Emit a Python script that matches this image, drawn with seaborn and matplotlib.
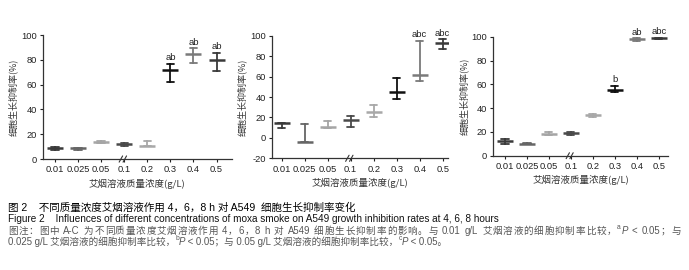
import re
import numpy as np
import pandas as pd
import matplotlib
matplotlib.use('Agg')
import matplotlib.pyplot as plt
import matplotlib.transforms as mtransforms
import seaborn as sns

sns.set_theme(style='white')
plt.rcParams['font.family'] = ['Noto Sans CJK SC', 'DejaVu Sans']
plt.rcParams['axes.unicode_minus'] = False

# 浓度 (g/L)
conc = ['0.01', '0.025', '0.05', '0.1', '0.2', '0.3', '0.4', '0.5']

# 4 h
a_mean = [8.8, 8.7, 14.0, 12.2, 10.8, 71.8, 84.7, 79.9]
a_low = [7.5, 7.0, 13.2, 10.6, 10.2, 61.9, 77.2, 71.3]
a_high = [9.5, 9.3, 14.8, 13.2, 14.3, 76.4, 89.3, 85.7]
a_sig = ['', '', '', '', '', 'ab', 'ab', 'ab']

# 6 h
b_mean = [14.3, -4.0, 11.0, 17.6, 25.7, 44.6, 61.6, 93.2]
b_low = [9.4, -4.5, 9.4, 11.0, 20.8, 38.4, 56.0, 86.6]
b_high = [15.0, 13.7, 16.6, 21.8, 32.2, 59.0, 95.0, 96.7]
b_sig = ['', '', '', '', '', '', 'abc', 'abc']

# 8 h
c_mean = [12.6, 10.1, 18.5, 18.8, 33.9, 55.2, 97.8, 98.6]
c_low = [9.8, 9.5, 17.1, 17.4, 32.8, 53.8, 96.3, 98.0]
c_high = [13.7, 10.6, 19.6, 19.9, 35.0, 58.8, 98.6, 99.2]
c_sig = ['', '', '', '', '', 'b', 'ab', 'abc']

colors = ['#3a3a3a', '#666666', '#a5a5a5', '#4a4a4a', '#a8a8a8', '#111111', '#7a7a7a', '#3a3a3a']
palette = dict(zip(conc, colors))

ylabel = '细胞生长抑制率(%)'
xlabel = '艾烟溶液质量浓度(g/L)'

latin = ['Liberation Sans', 'DejaVu Sans']
mixed = ['Liberation Sans', 'Noto Sans CJK SC', 'DejaVu Sans']

fig = plt.figure(figsize=(6.89, 2.70), dpi=100)

panels = [
    (a_mean, a_low, a_high, a_sig, [0.0624, 0.411, 0.274, 0.459], (-0.52, 7.66), (0, 100), [0, 20, 40, 60, 80, 100]),
    (b_mean, b_low, b_high, b_sig, [0.3948, 0.4137, 0.2554, 0.454], (-0.42, 7.23), (-20, 100), [-20, 0, 20, 40, 60, 80, 100]),
    (c_mean, c_low, c_high, c_sig, [0.716, 0.4233, 0.2535, 0.4407], (-0.53, 7.41), (0, 100), [0, 20, 40, 60, 80, 100]),
]

for mean, low, high, sig, rect, xlim, ylim, yticks in panels:
    ax = fig.add_axes(rect)
    # low/mean/high 三个值，中位数即均值，范围即误差线
    df = pd.DataFrame({
        'conc': conc * 3,
        'value': list(low) + list(mean) + list(high),
    })
    sns.pointplot(data=df, x='conc', y='value', hue='conc', order=conc, hue_order=conc,
                  palette=palette, estimator='median',
                  errorbar=lambda v: (v.min(), v.max()),
                  markers='_', linestyles='none', capsize=0.32,
                  err_kws={'linewidth': 1.3}, markersize=11, markeredgewidth=1.8,
                  legend=False, ax=ax)
    for i, s in enumerate(sig):
        if s:
            ax.text(i, high[i] + 1.5, s, ha='center', va='bottom', fontsize=6.8,
                    color='#222222', family=latin)
    ax.set_xlim(*xlim)
    ax.set_ylim(*ylim)
    ax.set_yticks(yticks)
    ax.set_xlabel(xlabel, fontsize=6.8, color='#333333', labelpad=3)
    ax.set_ylabel(ylabel, fontsize=6.5, color='#333333', labelpad=2)
    ax.tick_params(axis='both', labelsize=6.7, colors='#222222', length=2.5, width=0.8,
                   direction='out', pad=2, left=True, bottom=True)
    for lab in ax.get_xticklabels() + ax.get_yticklabels():
        lab.set_family(latin)
    for sp in ['top', 'right']:
        ax.spines[sp].set_visible(False)
    for sp in ['left', 'bottom']:
        ax.spines[sp].set_color('#333333')
        ax.spines[sp].set_linewidth(0.9)
    # 横轴断点 //
    trans = mtransforms.blended_transform_factory(ax.transData, ax.transAxes)
    for dx in (-0.12, 0.05):
        ax.plot([2.9 + dx, 3.05 + dx], [-0.025, 0.025], color='#333333', lw=0.8,
                transform=trans, clip_on=False)

renderer = fig.canvas.get_renderer()


def put_line(x_px, y_px, pieces, size, color, width=None):
    # 逐段写文字：上标字母、斜体 P；给了 width 就两端对齐
    tokens = []
    for s, kind in pieces:
        if width is not None and kind == '':
            for tok in re.findall(r'[A-Za-z0-9./<\-]+|\s+|.', s):
                tokens.append((tok, kind))
        else:
            tokens.append((s, kind))
    texts = []
    x = x_px
    for s, kind in tokens:
        kw = dict(fontsize=size, color=color, va='center', ha='left', family=mixed)
        y = y_px
        if kind == 'sup':
            kw['fontsize'] = size * 0.7
            y = y_px - 3
        elif kind == 'it':
            kw['style'] = 'italic'
        t = fig.text(x / 689, 1 - y / 270, s, **kw)
        bb = t.get_window_extent(renderer)
        texts.append((t, x, bb.width))
        x = bb.x1
    if width is not None and len(texts) > 1:
        extra = (x_px + width - x) / (len(texts) - 1)
        for k, (t, x0, w) in enumerate(texts):
            t.set_x((x0 + k * extra) / 689)


put_line(8, 207.7, [('图 2    不同质量浓度艾烟溶液作用 4，6，8 h 对 A549  细胞生长抑制率变化', '')], 7.6, '#000000')
put_line(8, 219.3, [('Figure 2    Influences of different concentrations of moxa smoke on A549 growth inhibition rates at 4, 6, 8 hours', '')], 7.2, '#111111')
put_line(8, 230.6, [('图注：图中 A-C 为不同质量浓度艾烟溶液作用 4，6，8 h 对 A549 细胞生长抑制率的影响。与 0.01 g/L 艾烟溶液的细胞抑制率比较，', ''),
                    ('a', 'sup'), ('P', 'it'), (' < 0.05；与', '')], 6.9, '#555555', width=673)
put_line(8, 241.9, [('0.025 g/L 艾烟溶液的细胞抑制率比较，', ''), ('b', 'sup'), ('P', 'it'),
                    (' < 0.05；与 0.05 g/L 艾烟溶液的细胞抑制率比较，', ''), ('c', 'sup'), ('P', 'it'),
                    (' < 0.05。', '')], 6.9, '#555555')

fig.savefig('out.png', dpi=100, facecolor='white')
